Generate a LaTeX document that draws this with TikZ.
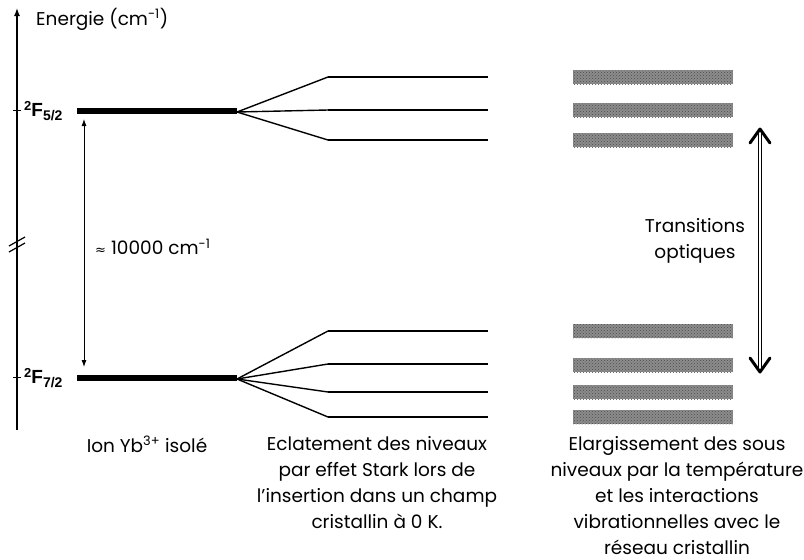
\documentclass[tikz,border=0pt]{standalone}
\usepackage{fontspec}
\setmainfont{Poppins}
\newfontfamily\lblfont{Liberation Sans}
\newfontfamily\symfont{DejaVu Sans}
\usetikzlibrary{arrows.meta,patterns}
\newcommand{\lvltext}[2]{\raisebox{5.5pt}{\fontsize{13}{13}\selectfont #1}F\raisebox{-4pt}{\fontsize{14}{14}\selectfont #2}}
\begin{document}
\begin{tikzpicture}[x=1pt,y=-1pt,
  txt/.style={font=\fontsize{18.5}{26}\selectfont, inner sep=0pt, align=center},
  lvl/.style={font=\lblfont\bfseries\fontsize{19}{20}\selectfont, inner sep=0pt, anchor=west},
  thicklvl/.style={line width=5.5pt},
  fanline/.style={line width=1.4pt},
  sublvl/.style={line width=2pt},
  chev/.style={line width=3pt, line cap=round, line join=round}]
\useasboundingbox (0,0) rectangle (804,560);
% axis
\coordinate (axb) at (17,430);
\coordinate (axt) at (17,8);
\draw[line width=1.4pt, -{Latex[length=8pt,width=6pt]}] (axb) -- (axt);
\node[txt, anchor=west] (elab) at (36,19) {Energie (cm\textsuperscript{-1})};
\draw[line width=1pt] (13,110) -- (21,110);
\draw[line width=1pt] (13,377) -- (21,377);
\draw[line width=1.2pt] (9,246) -- (25,237);
\draw[line width=1.2pt] (9,252) -- (25,243);
% level labels
\node[lvl] (f52) at (24,111) {\lvltext{2}{5/2}};
\node[lvl] (f72) at (24,378) {\lvltext{2}{7/2}};
% thick levels
\coordinate (u0) at (77,111);
\coordinate (u1) at (237,111);
\coordinate (l0) at (77,378);
\coordinate (l1) at (237,378);
\draw[thicklvl] (u0) -- (u1);
\draw[thicklvl] (l0) -- (l1);
% 10000 arrow
\coordinate (ea) at (84,119);
\coordinate (eb) at (84,367);
\draw[line width=0.9pt, {Latex[length=7pt,width=5pt]}-{Latex[length=7pt,width=5pt]}] (ea) -- (eb);
\node[txt, anchor=west] (gap) at (95,247) {{\symfont\fontsize{13}{13}\selectfont ≈} 10000 cm\textsuperscript{-1}};
% upper fan
\foreach \y/\n in {77/a,110/b,140/c}{
  \coordinate (us\n) at (328,\y);
  \coordinate (ue\n) at (488,\y);
  \draw[fanline] (237,112) -- (us\n);
  \draw[sublvl] (us\n) -- (ue\n);
}
% lower fan
\foreach \y/\n in {331/a,364/b,392/c,417/d}{
  \coordinate (ls\n) at (328,\y);
  \coordinate (le\n) at (488,\y);
  \draw[fanline] (237,379) -- (ls\n);
  \draw[sublvl] (ls\n) -- (le\n);
}
% bands
\foreach \y in {77,110,140,331,365,392,417}{
  \fill[black!45] (573,\y-7) rectangle (733,\y+7);
  \fill[pattern=crosshatch dots, pattern color=black!70] (573,\y-7) rectangle (733,\y+7);
}
% transitions arrow
\coordinate (tt) at (760,129);
\coordinate (tb) at (760,372);
\draw[line width=0.8pt, double, double distance=2pt] (tt) -- (tb);
\draw[chev] (750,143) -- (tt) -- (770,143);
\draw[chev] (750,358) -- (tb) -- (770,358);
\node[txt] (trans) at (695,241) {Transitions\\optiques};
% bottom captions
\node[txt, anchor=north] (c1) at (147,436) {Ion Yb\textsuperscript{3+} isolé};
\node[txt, anchor=north] (c2) at (377,436) {Eclatement des niveaux\\par effet Stark lors de\\l'insertion dans un champ\\cristallin à 0 K.};
\node[txt, anchor=north] (c3) at (677,436) {Elargissement des sous\\niveaux par la température\\et les interactions\\vibrationnelles avec le\\réseau cristallin};
\end{tikzpicture}
\end{document}
